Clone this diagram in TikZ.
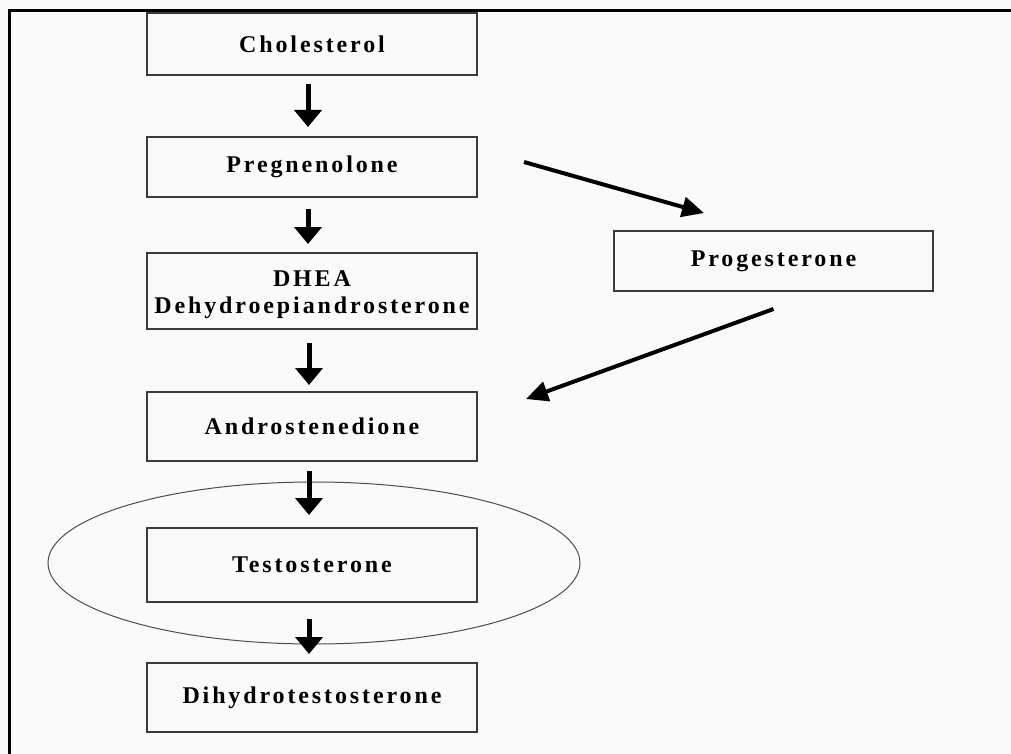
\documentclass[tikz,border=0pt]{standalone}
\usepackage{fontspec}
\newfontfamily\labfont[LetterSpace=12]{Liberation Serif}
\usetikzlibrary{arrows.meta,shapes.geometric}
\definecolor{bg}{HTML}{FAFAFA}
\definecolor{boxline}{HTML}{3A3A3A}
\tikzset{
  x=1pt,y=1pt,
  stepbox/.style={draw=boxline, line width=2pt, fill=bg, inner sep=0pt,
    minimum width=330pt, align=center,
    font=\labfont\bfseries\fontsize{24}{27}\selectfont},
  varr/.style={line width=5pt, -{Triangle[length=17pt,width=27pt]}},
  darr/.style={line width=4pt, -{Triangle[length=22pt,width=20pt]}},
}
\begin{document}
\begin{tikzpicture}
\fill[bg] (0,0) rectangle (1011,-754);
\useasboundingbox (0,0) rectangle (1011,-754);
\draw[line width=3pt, line cap=rect] (9.5,-760) -- (9.5,-10.5) -- (1020,-10.5);

\node[ellipse, draw=black!70, line width=1pt, minimum width=532pt, minimum height=162pt, inner sep=0pt] (ell) at (314,-563) {};

\node[stepbox, minimum height=62pt] (chol) at (312,-44) {Cholesterol};
\node[stepbox, minimum height=60pt] (preg) at (312,-167) {Pregnenolone};
\node[stepbox, minimum height=76pt] (dhea) at (312,-291) {\rule{0pt}{22.5pt}DHEA\\Dehydroepiandrosterone};
\node[stepbox, minimum height=69pt] (andro) at (312,-426.5) {Androstenedione};
\node[stepbox, minimum height=74pt] (testo) at (312,-565) {Testosterone};
\node[stepbox, minimum height=69pt] (dht) at (312,-697.5) {Dihydrotestosterone};
\node[stepbox, minimum width=319pt, minimum height=60pt] (prog) at (773.5,-261) {Progesterone};

\draw[varr, shorten <=8pt, shorten >=9pt] ([xshift=-4pt]chol.south) -- ([xshift=-4pt]preg.north);
\draw[varr, shorten <=11pt, shorten >=8pt] ([xshift=-4pt]preg.south) -- ([xshift=-4pt]dhea.north);
\draw[varr, shorten <=13pt, shorten >=6pt] ([xshift=-3pt]dhea.south) -- ([xshift=-3pt]andro.north);
\draw[varr, shorten <=9pt, shorten >=12pt] ([xshift=-3pt]andro.south) -- ([xshift=-3pt]testo.north);
\draw[varr, shorten <=16pt, shorten >=8pt] ([xshift=-3pt]testo.south) -- ([xshift=-3pt]dht.north);

\draw[darr] ([shift={(46,5)}]preg.east) -- ([shift={(91,17)}]prog.north west);
\draw[darr] ([yshift=-17pt]prog.south) -- ([shift={(48,27.5)}]andro.east);
\end{tikzpicture}
\end{document}
